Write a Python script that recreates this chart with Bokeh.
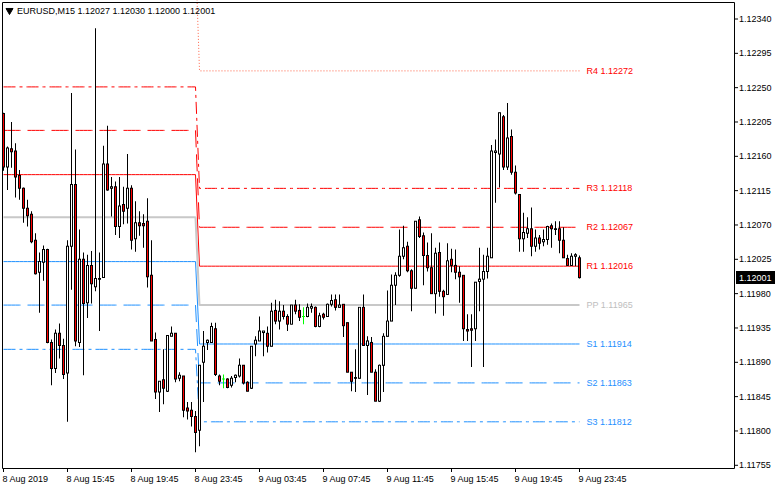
import pandas as pd
from bokeh.plotting import figure
from bokeh.models import ColumnDataSource, Range1d
from bokeh.embed import file_html
from bokeh.resources import INLINE
from bokeh.core.properties import value

symbol = "EURUSD,M15"
start_time = "2019-08-08 11:45"

opens = [1.12216, 1.12146, 1.12170, 1.12167, 1.12135, 1.12118, 1.12092, 1.12084, 1.12050, 1.12008,
         1.12021, 1.12038, 1.11916, 1.11882, 1.11928, 1.11912, 1.11876, 1.12042, 1.12123, 1.11916,
         1.12025, 1.11968, 1.12017, 1.11989, 1.11999, 1.12001, 1.12150, 1.12118, 1.12120, 1.12068,
         1.12097, 1.12092, 1.12118, 1.12052, 1.12073, 1.12072, 1.12075, 1.12004, 1.11920, 1.11851,
         1.11867, 1.11852, 1.11924, 1.11928, 1.11869, 1.11872, 1.11830, 1.11827, 1.11819, 1.11801,
         1.11890, 1.11916, 1.11916, 1.11934, 1.11872, 1.11868, 1.11868, 1.11860, 1.11870, 1.11872,
         1.11886, 1.11864, 1.11856, 1.11914, 1.11918, 1.11929, 1.11928, 1.11911, 1.11958, 1.11944,
         1.11957, 1.11950, 1.11940, 1.11965, 1.11958, 1.11950, 1.11950, 1.11961, 1.11962, 1.11937,
         1.11953, 1.11950, 1.11966, 1.11972, 1.11962, 1.11966, 1.11942, 1.11877, 1.11869, 1.11869,
         1.11962, 1.11912, 1.11916, 1.11877, 1.11839, 1.11886, 1.11924, 1.11944, 1.11991, 1.12004,
         1.12029, 1.12042, 1.12010, 1.11987, 1.12077, 1.12056, 1.12030, 1.12014, 1.11980, 1.12034,
         1.11983, 1.11979, 1.12025, 1.12017, 1.12008, 1.12004, 1.11933, 1.11934, 1.11934, 1.11996,
         1.11999, 1.12009, 1.12027, 1.12165, 1.12163, 1.12212, 1.12146, 1.12186, 1.12139, 1.12110,
         1.12052, 1.12059, 1.12065, 1.12042, 1.12053, 1.12048, 1.12051, 1.12069, 1.12065, 1.12065,
         1.12050, 1.12026, 1.12017, 1.12029, 1.12027]
highs = [1.12217, 1.12173, 1.12205, 1.12177, 1.12142, 1.12119, 1.12103, 1.12088, 1.12059, 1.12034,
         1.12043, 1.12039, 1.11920, 1.11933, 1.11941, 1.11921, 1.12050, 1.12243, 1.12169, 1.12064,
         1.12034, 1.12031, 1.12036, 1.12328, 1.12034, 1.12174, 1.12200, 1.12133, 1.12127, 1.12133,
         1.12120, 1.12163, 1.12122, 1.12101, 1.12088, 1.12084, 1.12105, 1.12050, 1.11929, 1.11865,
         1.11907, 1.11925, 1.11937, 1.11928, 1.11877, 1.11872, 1.11838, 1.11838, 1.11826, 1.11886,
         1.11931, 1.11920, 1.11942, 1.11942, 1.11874, 1.11874, 1.11869, 1.11872, 1.11874, 1.11895,
         1.11886, 1.11865, 1.11911, 1.11924, 1.11950, 1.11931, 1.11937, 1.11968, 1.11972, 1.11970,
         1.11965, 1.11953, 1.11965, 1.11972, 1.11966, 1.11962, 1.11967, 1.11967, 1.11963, 1.11955,
         1.11955, 1.11967, 1.11979, 1.11979, 1.11979, 1.11966, 1.11942, 1.11877, 1.11907, 1.11962,
         1.11979, 1.11924, 1.11923, 1.11881, 1.11887, 1.11928, 1.11984, 1.12005, 1.12008, 1.12064,
         1.12069, 1.12048, 1.12012, 1.12075, 1.12081, 1.12060, 1.12047, 1.12059, 1.12040, 1.12047,
         1.11985, 1.12046, 1.12039, 1.12038, 1.12016, 1.12004, 1.11953, 1.11953, 1.11995, 1.12040,
         1.12031, 1.12040, 1.12175, 1.12182, 1.12217, 1.12214, 1.12230, 1.12195, 1.12148, 1.12110,
         1.12086, 1.12080, 1.12093, 1.12064, 1.12057, 1.12064, 1.12069, 1.12072, 1.12075, 1.12075,
         1.12067, 1.12031, 1.12033, 1.12033, 1.12030]
lows = [1.12141, 1.12116, 1.12145, 1.12106, 1.12103, 1.12073, 1.12068, 1.12046, 1.12005, 1.11955,
        1.11997, 1.11915, 1.11860, 1.11876, 1.11895, 1.11868, 1.11812, 1.11985, 1.11911, 1.11910,
        1.11873, 1.11948, 1.11967, 1.11983, 1.11931, 1.12001, 1.12115, 1.12081, 1.12057, 1.12053,
        1.12071, 1.12072, 1.12038, 1.12035, 1.12056, 1.12040, 1.11988, 1.11918, 1.11842, 1.11825,
        1.11835, 1.11851, 1.11924, 1.11864, 1.11865, 1.11818, 1.11815, 1.11806, 1.11772, 1.11780,
        1.11838, 1.11906, 1.11916, 1.11872, 1.11860, 1.11856, 1.11856, 1.11857, 1.11864, 1.11870,
        1.11861, 1.11852, 1.11855, 1.11898, 1.11918, 1.11898, 1.11903, 1.11911, 1.11940, 1.11933,
        1.11946, 1.11931, 1.11940, 1.11953, 1.11944, 1.11940, 1.11949, 1.11955, 1.11936, 1.11936,
        1.11946, 1.11950, 1.11963, 1.11958, 1.11962, 1.11923, 1.11877, 1.11852, 1.11851, 1.11869,
        1.11912, 1.11847, 1.11877, 1.11839, 1.11838, 1.11851, 1.11924, 1.11944, 1.11965, 1.12002,
        1.12025, 1.12008, 1.11957, 1.11987, 1.12053, 1.11991, 1.12009, 1.11980, 1.11954, 1.11976,
        1.11951, 1.11979, 1.12008, 1.11999, 1.11968, 1.11918, 1.11918, 1.11884, 1.11918, 1.11957,
        1.11884, 1.12000, 1.12027, 1.12099, 1.12119, 1.12142, 1.12142, 1.12136, 1.12110, 1.12035,
        1.12035, 1.12053, 1.12029, 1.12035, 1.12038, 1.12042, 1.12044, 1.12040, 1.12057, 1.12033,
        1.12027, 1.12017, 1.12017, 1.12016, 1.12000]
closes = [1.12146, 1.12171, 1.12166, 1.12133, 1.12118, 1.12092, 1.12082, 1.12048, 1.12006, 1.12022,
          1.12038, 1.11916, 1.11882, 1.11928, 1.11912, 1.11874, 1.12042, 1.12123, 1.11918, 1.12025,
          1.11967, 1.12017, 1.11993, 1.12000, 1.12000, 1.12150, 1.12116, 1.12120, 1.12068, 1.12095,
          1.12088, 1.12118, 1.12050, 1.12073, 1.12069, 1.12069, 1.12002, 1.11918, 1.11851, 1.11865,
          1.11856, 1.11925, 1.11928, 1.11868, 1.11873, 1.11827, 1.11826, 1.11819, 1.11798, 1.11886,
          1.11911, 1.11919, 1.11937, 1.11874, 1.11865, 1.11868, 1.11857, 1.11869, 1.11873, 1.11886,
          1.11863, 1.11852, 1.11911, 1.11919, 1.11931, 1.11931, 1.11911, 1.11957, 1.11944, 1.11957,
          1.11950, 1.11940, 1.11965, 1.11957, 1.11949, 1.11950, 1.11962, 1.11963, 1.11937, 1.11951,
          1.11949, 1.11966, 1.11971, 1.11962, 1.11965, 1.11938, 1.11877, 1.11865, 1.11870, 1.11962,
          1.11912, 1.11918, 1.11877, 1.11839, 1.11886, 1.11924, 1.11944, 1.11991, 1.12004, 1.12029,
          1.12040, 1.12010, 1.11987, 1.12075, 1.12055, 1.12030, 1.12014, 1.11980, 1.12033, 1.11983,
          1.11976, 1.12023, 1.12017, 1.12008, 1.12002, 1.11934, 1.11931, 1.11932, 1.11995, 1.11999,
          1.12009, 1.12029, 1.12167, 1.12167, 1.12217, 1.12146, 1.12184, 1.12139, 1.12112, 1.12052,
          1.12060, 1.12065, 1.12042, 1.12053, 1.12046, 1.12051, 1.12068, 1.12065, 1.12064, 1.12050,
          1.12027, 1.12017, 1.12029, 1.12031, 1.12001]

# daily pivot levels (8 Aug, 9 Aug)
level_names = ["R4", "R3", "R2", "R1", "PP", "S1", "S2", "S3"]
levels_day1 = [1.12424, 1.12251, 1.12194, 1.12136, 1.12080, 1.12022, 1.11965, 1.11907]
levels_day2 = [1.12272, 1.12118, 1.12067, 1.12016, 1.11965, 1.11914, 1.11863, 1.11812]

price_ticks = [1.12340, 1.12295, 1.12250, 1.12205, 1.12160, 1.12115, 1.12070,
               1.12025, 1.11980, 1.11935, 1.11890, 1.11845, 1.11800, 1.11755]
time_tick_bars = [0, 16, 32, 48, 64, 80, 96, 112, 128, 144]
time_tick_labels = ["8 Aug 2019", "8 Aug 15:45", "8 Aug 19:45", "8 Aug 23:45", "9 Aug 03:45",
                    "9 Aug 07:45", "9 Aug 11:45", "9 Aug 15:45", "9 Aug 19:45", "9 Aug 23:45"]

FONT = "Liberation Sans"
FS = "9px"
RED = "#FF0000"
BLUE = "#1E90FF"
SILVER = "#C8C8C8"
LIME = "#00FF00"

times = pd.date_range(start_time, periods=len(opens), freq="15min")
n = len(opens)
idx = list(range(n))
day2_start = next(i for i, t in enumerate(times) if t.day != times[0].day)

# canvas / scale geometry (MetaTrader-like window); the renderer draws with a
# half-pixel offset, so positions are aimed half a pixel earlier to stay crisp
W, H = 780, 490
HALF = 0.5
SX = 4.0                       # px per bar
SY = 34.33 / 0.00045           # px per price unit
X0 = (HALF - 3.5) / SX         # bar 0 centred on pixel column 3
X1 = X0 + W / SX
YT = price_ticks[0] + (19 - HALF) / SY
YB = YT - H / SY
PXP = 1.0 / SY                 # one pixel, in price units


def px(xpix):
    return X0 + (xpix - HALF) / SX


def py(ypix):
    return YT - (ypix - HALF) / SY


p = figure(width=W, height=H, x_range=Range1d(X0, X1), y_range=Range1d(YB, YT),
           output_backend="svg", toolbar_location=None,
           x_axis_location=None, y_axis_location=None,
           min_border=0, min_border_left=0, min_border_right=0,
           min_border_top=0, min_border_bottom=0)
p.grid.visible = False
p.outline_line_color = None
p.background_fill_color = "white"
p.border_fill_color = "white"

# pivot level lines
styles = {
    "R4": ("#FF6347", "1 2", 1), "R3": (RED, "12 4 3 4", 1), "R2": (RED, "17 7", 1),
    "R1": (RED, "solid", 1), "PP": (SILVER, "solid", 2), "S1": (BLUE, "solid", 1),
    "S2": (BLUE, "17 7", 1), "S3": (BLUE, "12 4 3 4", 1),
}
for name, v1, v2 in zip(level_names, levels_day1, levels_day2):
    col, dash, lw = styles[name]
    ys = [v1 if i < day2_start else v2 for i in idx]
    p.line(idx, ys, line_color=col, line_dash=dash, line_width=lw)

# candles: 1px wicks, 3px bodies (black edge + 1px coloured core)
is_doji = [o == c for o, c in zip(opens, closes)]
wick_col = [LIME if d else "black" for d in is_doji]
p.vbar(x=idx, width=1 / SX, top=highs, bottom=lows, fill_color=wick_col, line_color=None)

nd = [i for i in idx if not is_doji[i]]
tops = [max(opens[i], closes[i]) for i in nd]
bots = [min(opens[i], closes[i]) for i in nd]
p.vbar(x=nd, width=3 / SX, top=[t + 0.5 * PXP for t in tops],
       bottom=[b - 0.5 * PXP for b in bots], fill_color="black", line_color=None)
core = [(i, t, b) for i, t, b in zip(nd, tops, bots) if (t - b) > PXP]
p.vbar(x=[c[0] for c in core], width=1 / SX, top=[c[1] - 0.5 * PXP for c in core],
       bottom=[c[2] + 0.5 * PXP for c in core],
       fill_color=["white" if closes[c[0]] > opens[c[0]] else RED for c in core],
       line_color=None)

dj = [i for i in idx if is_doji[i]]
p.vbar(x=dj, width=3 / SX, top=[opens[i] + 0.5 * PXP for i in dj],
       bottom=[opens[i] - 0.5 * PXP for i in dj], fill_color=LIME, line_color=None)

# level labels at right of the last bar
lab_cols = {"R": RED, "P": "#BEBEBE", "S": BLUE}
lsrc = ColumnDataSource(dict(
    x=[n - 1] * len(level_names), y=levels_day2,
    text=[f"{nm} {v:.5f}" for nm, v in zip(level_names, levels_day2)],
    color=[lab_cols[nm[0]] for nm in level_names],
))
p.text(x="x", y="y", text="text", text_color="color", x_offset=7, text_align="left",
       text_baseline="middle", text_font=value(FONT), text_font_size=FS, source=lsrc)

# chart frame
bx0, bx1, by0, by1 = px(2.5), px(734.5), py(2.5), py(468.5)
p.line([bx0, bx1, bx1, bx0, bx0], [by0, by0, by1, by1, by0], line_color="black", line_width=1)

# price scale (right)
p.segment(x0=[px(735)] * len(price_ticks), x1=[px(738)] * len(price_ticks),
          y0=price_ticks, y1=price_ticks, line_color="black", line_width=1)
p.text(x=[px(739)] * len(price_ticks), y=price_ticks, text=[f"{t:.5f}" for t in price_ticks],
       text_align="left", text_baseline="middle", text_font=value(FONT), text_font_size=FS,
       text_color="black")

# current price box
p.rect(x=[px(755.5)], y=[closes[-1]], width=39, height=13, width_units="screen",
       height_units="screen", fill_color="black", line_color=None)
p.text(x=[px(739)], y=[closes[-1]], text=[f"{closes[-1]:.5f}"], text_align="left",
       text_baseline="middle", text_font=value(FONT), text_font_size=FS, text_color="white")

# time scale (bottom)
p.segment(x0=time_tick_bars, x1=time_tick_bars, y0=[py(469)] * len(time_tick_bars),
          y1=[py(472)] * len(time_tick_bars), line_color="black", line_width=1)
p.text(x=time_tick_bars, y=[py(474)] * len(time_tick_bars), text=time_tick_labels,
       x_offset=-1, text_align="left", text_baseline="top", text_font=value(FONT),
       text_font_size=FS, text_color="black")

# header
title_text = f"{symbol}  {opens[-1]:.5f} {highs[-1]:.5f} {lows[-1]:.5f} {closes[-1]:.5f}"
p.scatter(x=[px(9.5)], y=[py(10.5)], marker="inverted_triangle", size=7, color="black")
p.text(x=[px(17)], y=[py(10.5)], text=[title_text], text_align="left", text_baseline="middle",
       text_font=value(FONT), text_font_size=FS, text_color="black")

open("out.html", "w").write(file_html(p, INLINE))
